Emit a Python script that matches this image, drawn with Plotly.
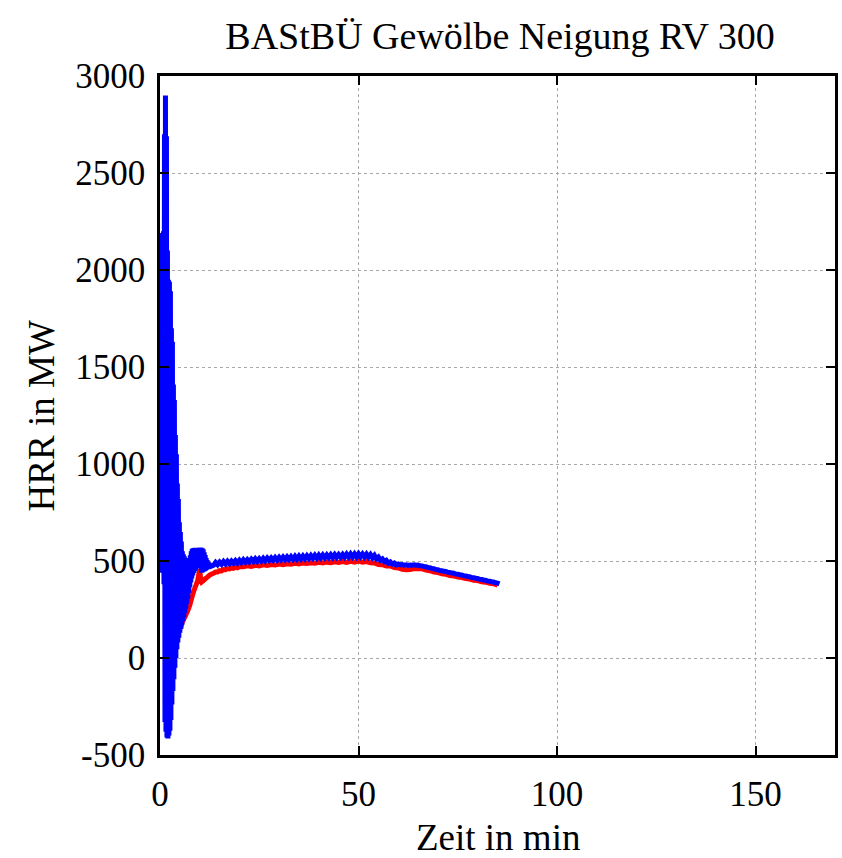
import plotly.graph_objects as go

# ---- data ----
blue_time = [0.0, 0.125, 0.25, 0.375, 0.5, 0.625, 0.75, 0.875, 1.0, 1.125, 1.25, 1.375, 1.5, 1.625,
             1.75, 1.875, 2.0, 2.125, 2.25, 2.375, 2.5, 2.625, 2.75, 2.875, 3.0, 3.125, 3.25, 3.375,
             3.5, 3.625, 3.75, 3.875, 4.0, 4.125, 4.25, 4.375, 4.5, 4.625, 4.75, 4.875, 5.0, 5.125,
             5.25, 5.375, 5.5, 5.625, 5.75, 5.875, 6.0, 6.125, 6.25, 6.375, 6.5, 6.625, 6.75, 6.875,
             7.0, 7.125, 7.25, 7.375, 7.5, 7.625, 7.75, 7.875, 8.0, 8.125, 8.25, 8.375, 8.5, 8.625,
             8.75, 8.875, 9.0, 9.125, 9.25, 9.375, 9.5, 9.625, 9.75, 9.875, 10.0, 10.125, 10.25,
             10.375, 10.5, 10.625, 10.75, 10.875, 11.0, 11.125, 11.25, 11.375, 11.5, 11.625, 11.75,
             11.875, 12.0, 12.125, 12.25, 12.375, 12.5, 12.625, 12.75, 12.875, 13.0,
             13.5, 14.0, 14.5, 15.0, 15.5, 16.0, 16.5, 17.0, 17.5, 18.0, 18.5, 19.0, 19.5, 20.0,
             20.5, 21.0, 21.5, 22.0, 22.5, 23.0, 23.5, 24.0, 24.5, 25.0, 25.5, 26.0, 26.5, 27.0,
             27.5, 28.0, 28.5, 29.0, 29.5, 30.0, 30.5, 31.0, 31.5, 32.0, 32.5, 33.0, 33.5, 34.0,
             34.5, 35.0, 35.5, 36.0, 36.5, 37.0, 37.5, 38.0, 38.5, 39.0, 39.5, 40.0, 40.5, 41.0,
             41.5, 42.0, 42.5, 43.0, 43.5, 44.0, 44.5, 45.0, 45.5, 46.0, 46.5, 47.0, 47.5, 48.0,
             48.5, 49.0, 49.5, 50.0, 50.5, 51.0, 51.5, 52.0, 52.5, 53.0, 53.5, 54.0, 54.5, 55.0,
             55.5, 56.0, 56.5, 57.0, 57.5, 58.0, 58.5, 59.0, 59.5, 60.0, 60.5, 61.0, 61.5, 62.0,
             62.5, 63.0, 63.5, 64.0, 64.5, 65.0, 65.5, 66.0, 66.5, 67.0, 67.5, 68.0, 68.5, 69.0,
             69.5, 70.0, 70.5, 71.0, 71.5, 72.0, 72.5, 73.0, 73.5, 74.0, 74.5, 75.0, 75.5, 76.0,
             76.5, 77.0, 77.5, 78.0, 78.5, 79.0, 79.5, 80.0, 80.5, 81.0, 81.5, 82.0, 82.5, 83.0,
             83.5, 84.0, 84.5, 85.0, 85.5]
blue_hrr = [450, 2150, 440, 2170, 440, 2190, 440, 2200, 380, 2700, -330, 2900, -380, 2690,
            -410, 2100, -415, 1950, -400, 1940, -375, 1890, -320, 1700, -240, 1630, -170, 1410,
            -110, 1330, -50, 1150, 0, 1050, 45, 900, 80, 820, 105, 700, 130, 650,
            150, 600, 170, 550, 190, 535, 210, 525, 232, 515, 255, 508, 280, 503,
            305, 500, 335, 510, 365, 530, 390, 550, 410, 563, 425, 566, 438, 567,
            448, 568, 455, 567, 462, 566, 475, 568, 515, 567, 522, 569, 470,
            568, 440, 566, 442, 560, 445, 545, 448, 530, 452, 515, 456,
            505, 460, 495, 464, 490, 468, 486, 471, 484, 474,
            478, 492, 481, 494, 483, 497, 485, 499, 487, 500, 489, 502, 490, 504,
            492, 506, 494, 507, 495, 509, 497, 511, 498, 512, 500, 514, 501, 515,
            503, 516, 504, 518, 505, 519, 506, 520, 507, 521, 508, 522, 509, 524,
            510, 525, 511, 526, 512, 527, 513, 528, 514, 529, 515, 530, 516, 531,
            517, 531, 518, 532, 518, 533, 519, 533, 520, 534, 520, 535, 521, 536,
            521, 536, 521, 537, 522, 536, 521, 535, 520, 533, 517, 529, 511, 520,
            504, 511, 497, 503, 489, 495, 484, 489, 479, 484, 480, 482, 478, 480,
            477, 479, 478, 480, 478, 479, 476, 475, 471, 470, 466, 465, 461, 460,
            456, 455, 451, 450, 447, 446, 442, 441, 438, 437, 433, 432, 429, 428,
            424, 423, 420, 419, 415, 414, 411, 410, 406, 405, 402, 401, 397, 396,
            393, 392, 388, 386, 382]

red_time = [0.0, 0.25, 0.5, 0.75, 1.0, 1.25, 1.5, 1.75, 2.0, 2.25, 2.5, 2.75, 3.0, 3.25, 3.5, 3.75,
            4.0, 4.25, 4.5, 4.75, 5.0, 5.25, 5.5, 5.75, 6.0, 6.5, 7.0, 7.5, 8.0, 8.5, 9.0, 9.5,
            9.75, 10.0, 10.25, 10.5, 11.0, 11.5, 12.0, 12.5, 13.0, 13.5, 14.0, 14.5, 15.0, 15.5,
            16.0, 16.5, 17.0, 17.5, 18.0, 18.5, 19.0, 19.5, 20.0, 21, 22, 23, 24, 25, 26, 27, 28,
            29, 30, 31, 32, 33, 34, 35, 36, 37, 38, 39, 40, 41, 42, 43, 44, 45, 46, 47, 48, 49,
            50, 51, 52, 53, 54, 55, 56, 57, 58, 59, 60, 61, 62, 63, 64, 65, 66, 67, 68, 69, 70,
            71, 72, 73, 74, 75, 76, 77, 78, 79, 80, 81, 82, 83, 84, 85]
red_hrr = [2190, 600, 1500, 550, 1200, 400, 1000, 300, 900, 200, 800, 150, 700, 100, 600, 100,
           500, 120, 400, 140, 300, 160, 178, 190, 200, 222, 245, 272, 310, 345, 372, 400,
           430, 458, 405, 392, 400, 410, 418, 427, 433, 437, 443, 443, 450, 449,
           456, 455, 461, 459, 465, 462, 468, 465, 470, 470, 475, 472, 478, 475, 480, 477, 482,
           479, 484, 481, 486, 483, 488, 485, 490, 487, 491, 488, 493, 490, 494, 491, 496, 492,
           497, 493, 498, 494, 499, 494, 497, 491, 490, 482, 481, 474, 474, 466, 464, 457, 455,
           456, 461, 460, 460, 453, 450, 443, 440, 434, 431, 425, 423, 417, 415, 409, 407, 401,
           399, 393, 391, 385, 383, 376]

x_ticks = [0, 50, 100, 150]
y_ticks = [-500, 0, 500, 1000, 1500, 2000, 2500, 3000]
y_tick_text = ["-500", "0", "500", "1000", "1500", "2000", "2500", "3000"]

title_text = "BAStBÜ Gewölbe Neigung RV 300"
x_label = "Zeit in min"
y_label = "HRR in MW"

FONT = "Liberation Serif"

fig = go.Figure()
fig.add_trace(go.Scatter(x=red_time, y=red_hrr, mode="lines",
                         line=dict(color="#ff0000", width=5, simplify=False), showlegend=False))
fig.add_trace(go.Scatter(x=blue_time, y=blue_hrr, mode="lines",
                         line=dict(color="#0000ff", width=5, simplify=False), showlegend=False))

axis_common = dict(
    showline=True, linecolor="black", linewidth=2.5, mirror="ticks",
    ticks="inside", ticklen=9, tickwidth=2, tickcolor="black",
    showgrid=True, gridcolor="#a8a8a8", griddash="dot", gridwidth=1,
    zeroline=False,
    tickfont=dict(family=FONT, size=35, color="black"),
)

fig.update_xaxes(range=[0, 170], tickvals=x_ticks, ticklabelstandoff=6, **axis_common)
fig.update_yaxes(range=[-500, 3000], tickvals=y_ticks, ticktext=y_tick_text,
                 ticklabelstandoff=5, **axis_common)

fig.update_layout(
    width=842, height=858,
    margin=dict(l=160, r=4, t=76, b=103),
    paper_bgcolor="white", plot_bgcolor="white",
    font=dict(family=FONT, color="black"),
    title=dict(text=title_text, x=500 / 842, xref="container", xanchor="center",
               y=1 - 36 / 858, yref="container", yanchor="middle",
               font=dict(family=FONT, size=38, color="black")),
    annotations=[
        dict(text=x_label, xref="paper", yref="paper", x=0.5, y=-0.122,
             xanchor="center", yanchor="middle", showarrow=False,
             font=dict(family=FONT, size=37, color="black")),
        dict(text=y_label, xref="paper", yref="paper", x=-0.175, y=0.5,
             xanchor="center", yanchor="middle", showarrow=False, textangle=-90,
             font=dict(family=FONT, size=37, color="black")),
    ],
)

fig.write_html("out.html")
